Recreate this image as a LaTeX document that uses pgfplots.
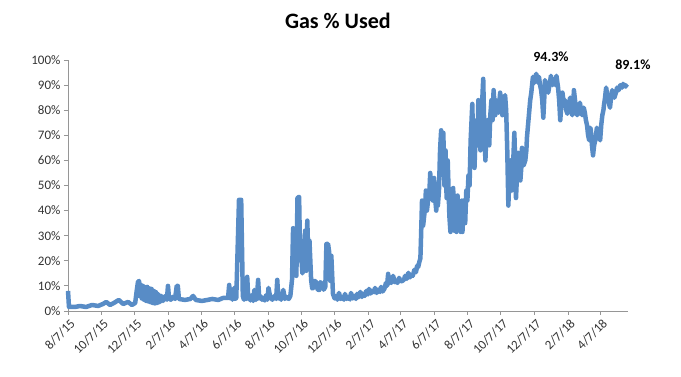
\documentclass[border=0pt]{standalone}
\usepackage{pgfplots}
\pgfplotsset{compat=1.18}
\usepackage{fontspec}
\setmainfont{Carlito}
\definecolor{gasblue}{RGB}{88,140,198}
\definecolor{axgray}{RGB}{150,150,150}
\begin{document}
\begin{tikzpicture}
\useasboundingbox (-68pt,-66pt) rectangle (613pt,311pt);
\begin{axis}[
  scale only axis, width=560pt, height=251pt,
  at={(0pt,0pt)}, anchor=south west,
  xmin=0, xmax=1025, ymin=0, ymax=100,
  axis x line=bottom, axis y line=left,
  axis line style={-, draw=axgray, line width=0.8pt},
  tick style={draw=axgray, line width=0.8pt},
  tick align=outside, major tick length=4pt,
  ytick={0,10,...,100},
  yticklabel={\pgfmathprintnumber[assume math mode=true]{\tick}\%},
  xtick={0,61,122,184,244,305,366,427,488,550,609,670,731,792,853,915,974},
  xticklabels={8/7/15,10/7/15,12/7/15,2/7/16,4/7/16,6/7/16,8/7/16,10/7/16,12/7/16,2/7/17,4/7/17,6/7/17,8/7/17,10/7/17,12/7/17,2/7/18,4/7/18},
  x tick label style={rotate=45, anchor=north east, inner sep=1pt, yshift=-2pt, font=\fontsize{13}{15}\selectfont, text=black!80},
  y tick label style={font=\fontsize{13}{15}\selectfont, text=black!80},
  title={Gas \% Used},
  title style={font=\fontsize{22}{26}\selectfont\bfseries, at={(0.482,1.131)}, anchor=center},
  clip=false,
]
\addplot[gasblue, line width=4.5pt, line join=round] table {
x y
0 8.0
1.8 1.6
12.8 1.6
22 2.0
33 1.6
44 2.4
55 2.0
64 2.8
70 3.6
77 2.4
84 3.2
93 4.4
101 2.8
110 3.6
117 2.4
123 3.2
126 8.4
128 11.5
130 12.0
131 6.0
133 10.5
135 5.0
137 10.0
139 4.5
141 9.5
143 4.0
145 9.6
147 3.8
149 9.0
151 3.5
153 8.8
155 3.2
157 8.0
159 3.0
161 7.5
163 3.2
165 6.8
168 3.5
171 6.0
174 4.0
178 6.0
181 4.5
183 10.0
185 5.0
188 4.5
192 5.6
196 4.8
199 10.0
201 10.0
203 4.8
214 4.4
224 4.8
229 6.0
234 4.4
245 4.0
255 4.4
264 4.8
275 4.4
284 5.2
293 5.2
295 10.4
297 5.0
299 8.0
301 4.5
304 9.2
306 4.8
308 5.2
313 44.3
317 44.3
320 6.0
322 4.5
324 8.4
326 4.8
328 13.6
330 5.0
331 6.0
334 4.2
337 6.4
339 4.0
341 8.4
344 4.4
346 6.0
348 12.4
350 5.0
352 6.0
355 4.5
357 5.2
360 4.2
363 6.4
365 4.5
367 9.2
370 5.6
374 4.5
378 6.0
381 4.8
383 12.4
385 5.0
387 6.0
390 4.5
394 8.4
397 4.8
400 5.6
404 4.8
407 6.0
410 12.4
412 33
414 16
416 26
418 14
420 45
423 45.5
425 20
427 22
429 15
431 17
434 32
436 16
438 36
440 20
442 28
445 12.4
447 9.0
449 9.2
451 12
454 11.6
457 8.5
460 8.4
462 11.5
465 10.8
468 8.5
471 9.6
473 26.7
476 26.7
478 23.5
480 12
482 22
485 6.8
488 5.0
491 6.0
493 4.5
496 7.2
499 4.8
502 5.6
505 4.5
507 6.8
510 4.8
513 5.6
516 4.6
518 7.2
521 5.0
524 6.0
527 4.8
529 6.8
532 5.5
535 7.6
538 5.6
540 6.8
543 6.0
546 8.0
549 6.6
551 8.8
554 7.0
557 8.0
560 7.5
562 9.2
565 7.2
568 8.4
571 7.6
573 9.6
576 7.8
579 8.8
582 11.2
584 10.0
586 14.8
588 11.0
590 12.8
592 11.2
595 14.0
598 11.5
600 12.0
603 11.2
606 13.2
609 11.8
612 12.0
615 12.5
617 14.0
620 12.8
623 15.2
626 13.4
628 14.4
631 14.0
634 16.4
637 15.5
639 18.0
641 17.5
643 19.5
645 21
646 28
648 44
650 34
652 38
654 42
655 48
657 40
659 44
661 45
663 55
665 45
666 48
668 44
670 53
672 45
674 40
676 46
677 42
679 48
681 64
683 72
685 58
687 71
689 50
691 64
693 45
695 60
698 38
700 31.5
702 45
703 33
705 49
707 32
709 45
711 31.5
713 46
715 33
717 42
719 31.5
721 44
722 31.5
724 44
727 35
729 48
731 44
733 54
735 50
737 68
740 82.5
742 62
744 57
746 70
748 76
750 66
751 84
753 70
755 64
757 78
760 92.5
762 72
764 60
766 72
768 76
770 70
771 66
773 78
775 84
777 76
779 88
782 78
784 84
786 82
788 79
791 87
793 82
795 78
798 84
800 86
802 80
804 64
806 42
808 55
810 60
812 48
813 52
815 60
817 71
819 55
820 45
822 55
824 63
826 56
828 52
830 58
831 65
834 58
837 60
839 64
840 69
842 74
844 79
846 84
848 87
851 93.3
854 91
857 94.5
860 91
862 93.3
864 90
866 88
868 84
870 77
872 86
873 92
876 89
879 87
882 91
884 93.7
887 90
890 92
892 90
894 93.7
897 89
899 84
901 76
903 82
905 87
908 82
910 84
912 80
914 78.6
917 82
919 85
921 80
923 78
925 83
926 88
929 82
932 78
935 80
937 83
939 80
941 78
944 81
946 79
948 76
950 74
952 70
954 68
956 73
957 72
959 66
961 62
963 66
965 68
967 71
968 73
971 70
974 68
976 74
978 78
980 80
981 82
983 85
985 89
987 86
989 85
991 82
992 81
994 85
996 88
998 86
1000 85
1003 87
1005 89
1008 88
1011 90
1014 89
1016 90.5
1018 89.5
1020 90
1022 89.5
1024 89.1
};
\node[font=\fontsize{14}{16}\selectfont\bfseries] at (axis cs:884,101.3) {94.3\%};
\node[font=\fontsize{14}{16}\selectfont\bfseries] at (axis cs:1034,98.1) {89.1\%};
\end{axis}
\end{tikzpicture}
\end{document}
